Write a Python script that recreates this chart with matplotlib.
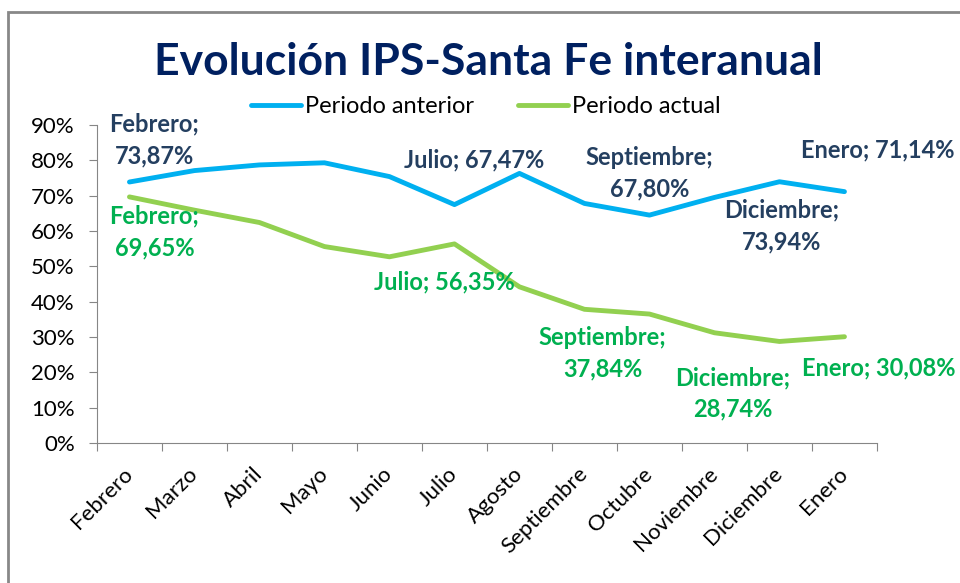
import matplotlib
matplotlib.use("Agg")
import matplotlib.pyplot as plt
import matplotlib.patches as patches

plt.rcParams['font.family'] = ['Lato', 'DejaVu Sans']

meses = ["Febrero", "Marzo", "Abril", "Mayo", "Junio", "Julio", "Agosto",
         "Septiembre", "Octubre", "Noviembre", "Diciembre", "Enero"]
anterior = [73.87, 77.1, 78.7, 79.3, 75.4, 67.47, 76.3, 67.80, 64.5, 69.5, 73.94, 71.14]
actual = [69.65, 65.9, 62.4, 55.6, 52.7, 56.35, 44.2, 37.84, 36.5, 31.2, 28.74, 30.08]

# (index, offset px, two lines) of the data labels
labels_anterior = [(0, (25, 42), True), (5, (20, 45), False), (7, (65, 30), True),
                   (10, (2, -44), True), (11, (33, 42), False)]
labels_actual = [(0, (25, -35), True), (5, (-10, -38), False), (7, (18, -44), True),
                 (10, (-47, -52), True), (11, (34, -31), False)]

c_ant = "#00B0F0"
c_act = "#92D050"
c_ant_txt = "#243F60"
c_act_txt = "#00B050"

fig = plt.figure(figsize=(9.6, 5.83), dpi=100)
ax = fig.add_axes([0.101, 0.2401, 0.8125, 0.5455])

x = list(range(len(meses)))
ax.plot(x, anterior, color=c_ant, lw=3.5, label="Periodo anterior", solid_capstyle='round')
ax.plot(x, actual, color=c_act, lw=3.5, label="Periodo actual", solid_capstyle='round')


def fmt(v):
    return f"{v:.2f}".replace(".", ",") + "%"


for serie, labs, col in [(anterior, labels_anterior, c_ant_txt), (actual, labels_actual, c_act_txt)]:
    for i, off, two in labs:
        sep = ";\n" if two else "; "
        ax.annotate(meses[i] + sep + fmt(serie[i]), (i, serie[i]), xytext=off,
                    textcoords='offset pixels', ha='center', va='center',
                    fontsize=17, fontweight='bold', color=col, linespacing=1.45,
                    annotation_clip=False)

ax.set_xlim(-0.5, 11.5)
ax.set_ylim(0, 90)
ax.set_yticks(range(0, 91, 10))
ax.set_yticklabels([f"{v}%" for v in range(0, 91, 10)], fontsize=16)
ax.set_xticks([i - 0.5 for i in range(13)])
ax.set_xticklabels([])
ax.set_xticks(x, minor=True)
ax.set_xticklabels(meses, minor=True, rotation=45, ha='right', va='center',
                   rotation_mode='anchor', fontsize=16)
ax.tick_params(axis='x', which='minor', length=0, pad=20)
ax.tick_params(axis='x', which='major', length=6, color='#868686', direction='out')
ax.tick_params(axis='y', length=6, color='#868686', direction='out', pad=10)
for s in ['top', 'right']:
    ax.spines[s].set_visible(False)
for s in ['left', 'bottom']:
    ax.spines[s].set_color('#868686')

fig.text(0.509, 0.893, "Evolución IPS-Santa Fe interanual", ha='center', va='center',
         fontsize=32, fontweight='bold', color='#002060')
fig.legend(loc='center', bbox_to_anchor=(0.506, 0.8165), ncol=2, frameon=False,
           fontsize=17, handlelength=2.1, handletextpad=0.15, columnspacing=1.9)

fig.patches.append(patches.Rectangle((8 / 960, -0.1), 1.1, 1.1 - 12 / 583, fill=False,
                                     edgecolor='#888888', lw=2, transform=fig.transFigure))

fig.savefig("out.png", dpi=100)
